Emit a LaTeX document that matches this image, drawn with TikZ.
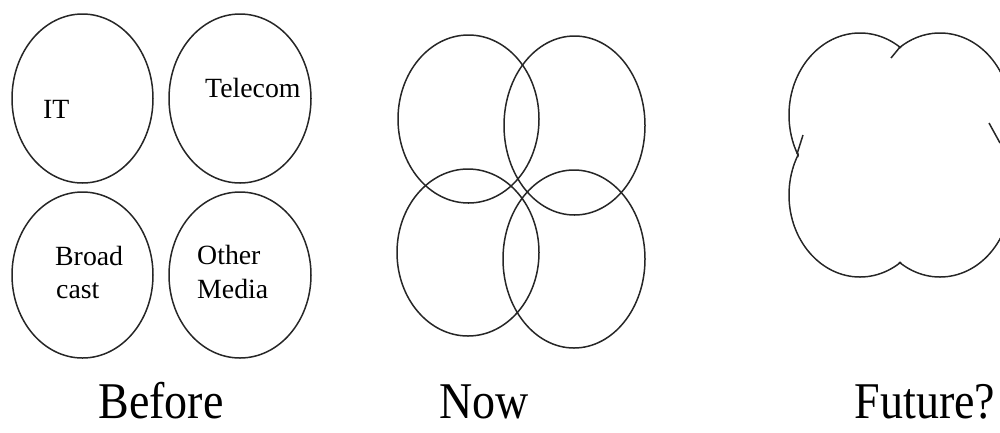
\documentclass[tikz,border=0pt]{standalone}
\usepackage{fontspec}
\setmainfont{Liberation Serif}
\begin{document}
\begin{tikzpicture}[x=1pt,y=-1pt,
  ring/.style={draw=black!85,line width=1.5pt},
  lbl/.style={anchor=base west,inner sep=0pt,font=\fontsize{27.8}{33}\selectfont},
  captxt/.style={anchor=base,inner sep=0pt,font=\fontsize{46}{50}\selectfont}]
\useasboundingbox (0,0) rectangle (1000,432);
\clip (0,0) rectangle (1000,432);
% Before
\draw[ring] (82.5,98.5) ellipse [x radius=70.5,y radius=84.5];
\draw[ring] (240,98.5) ellipse [x radius=71,y radius=84.5];
\draw[ring] (82.5,275) ellipse [x radius=70.5,y radius=83];
\draw[ring] (240,275) ellipse [x radius=71,y radius=83];
\node[lbl] (it) at (43,118) {IT};
\node[lbl] (tel) at (205,97) {Telecom};
\node[lbl] (br) at (55,265) {Broad};
\node[lbl] (ca) at (56,298) {cast};
\node[lbl] (ot) at (197,264) {Other};
\node[lbl] (me) at (197,298) {Media};
% Now
\draw[ring] (468.5,119) ellipse [x radius=70.5,y radius=84];
\draw[ring] (574.5,125.5) ellipse [x radius=70.5,y radius=89.5];
\draw[ring] (468,252.5) ellipse [x radius=71,y radius=83.5];
\draw[ring] (574,259) ellipse [x radius=71,y radius=89];
% Future
\draw[ring] (860,115) ellipse [x radius=71,y radius=82];
\draw[ring] (940,115) ellipse [x radius=71,y radius=82];
\draw[ring] (860,195) ellipse [x radius=71,y radius=82];
\draw[ring] (940,195) ellipse [x radius=71,y radius=82];
\fill[white] (860,115) ellipse [x radius=69.7,y radius=80.7];
\fill[white] (940,115) ellipse [x radius=69.7,y radius=80.7];
\fill[white] (860,195) ellipse [x radius=69.7,y radius=80.7];
\fill[white] (940,195) ellipse [x radius=69.7,y radius=80.7];
\coordinate (t1) at (900,47);
\coordinate (t2) at (891,58);
\coordinate (l1) at (797,154);
\coordinate (l2) at (803,135);
\coordinate (r1) at (989,123);
\coordinate (r2) at (1000,143);
\draw[ring] (t1) -- (t2);
\draw[ring] (l1) -- (l2);
\draw[ring] (r1) -- (r2);
% captions
\node[captxt] (before) at (161,418) {\scalebox{1}[1.12]{Before}};
\node[captxt] (now) at (484.5,418) {\scalebox{1}[1.12]{Now}};
\node[captxt] (fut) at (925,418) {\scalebox{1}[1.12]{Future?}};
\end{tikzpicture}
\end{document}
